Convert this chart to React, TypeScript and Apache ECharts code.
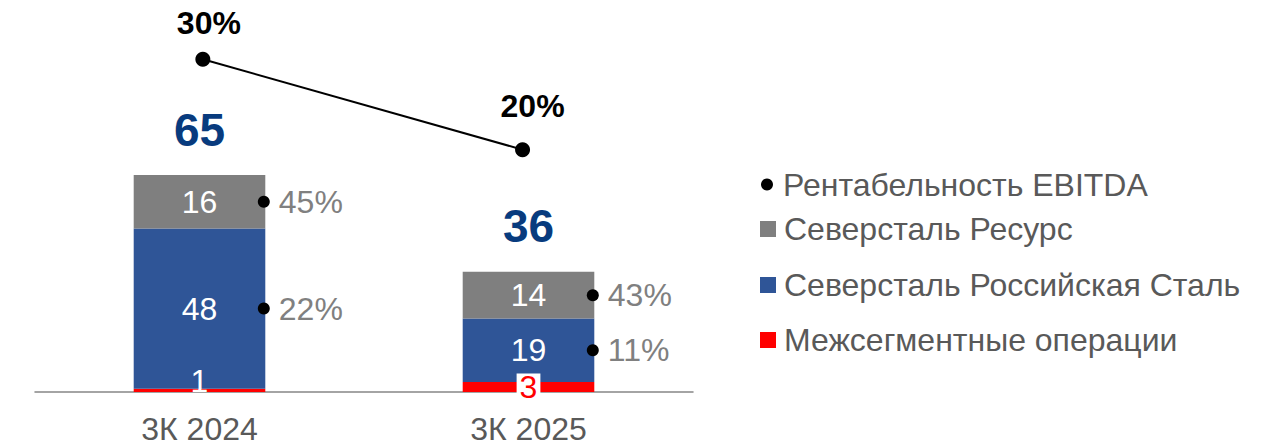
import { useEffect, useRef } from 'react';
import * as echarts from 'echarts';

const categories = ['3К 2024', '3К 2025'];
const intersegment = [1, 3];
const russianSteel = [48, 19];
const resource = [16, 14];
const totals = [65, 36];
const ebitdaMargin = [30, 20];
const resourceMargin = [45, 43];
const steelMargin = [22, 11];

const NAME_MARGIN = 'Рентабельность EBITDA';
const NAME_RES = 'Северсталь Ресурс';
const NAME_RS = 'Северсталь Российская Сталь';
const NAME_INTER = 'Межсегментные операции';

const FONT = '"Liberation Sans", Arial, sans-serif';
const FS = 32;

export default function App() {
  const ref = useRef<HTMLDivElement>(null);
  useEffect(() => {
    if (!ref.current) return;
    const chart = echarts.init(ref.current, undefined, { renderer: 'svg' });

    const shareData = [
      ...categories.map((_, i) => [i, intersegment[i] + russianSteel[i] + resource[i] / 2, resourceMargin[i]]),
      ...categories.map((_, i) => [i, intersegment[i] + russianSteel[i] / 2, steelMargin[i]]),
    ];

    const interData = intersegment.map((v, i) =>
      i === 0
        ? { value: v, label: { show: true, position: 'inside', offset: [0, -9], color: '#ffffff' } }
        : {
            value: v,
            label: {
              show: true,
              position: 'inside',
              color: '#ff0000',
              backgroundColor: '#ffffff',
              padding: [0, 3],
              lineHeight: 27,
            },
          }
    );

    const marginData = ebitdaMargin.map((v, i) => ({
      value: v,
      label: i === 0 ? { offset: [6, 0] } : { offset: [10, -7] },
    }));

    const legendBase = (name: string, top: number, left: number, icon: string, size: number, pad: number) => ({
      data: [name],
      orient: 'horizontal',
      left,
      top,
      padding: 0,
      icon,
      itemWidth: size,
      itemHeight: size,
      selectedMode: false,
      textStyle: { color: '#595959', fontSize: FS, fontFamily: FONT, padding: [0, 0, 0, pad] },
    });

    chart.setOption({
      animation: false,
      textStyle: { fontFamily: FONT },
      legend: [
        legendBase(NAME_MARGIN, 168.5, 761, 'circle', 12, 5),
        legendBase(NAME_RES, 213, 760, 'rect', 16, 3),
        legendBase(NAME_RS, 269, 760, 'rect', 16, 3),
        legendBase(NAME_INTER, 324, 760, 'rect', 16, 3),
      ],
      grid: [
        { left: 35, width: 658, top: 58.2, height: 333.8 },
        { left: 43, width: 639.4, top: 59.3, height: 271.2 },
      ],
      xAxis: [
        {
          type: 'category',
          gridIndex: 0,
          data: categories,
          axisLine: { lineStyle: { color: '#868686', width: 1.5 } },
          axisTick: { show: false },
          axisLabel: { color: '#595959', fontSize: FS, lineHeight: 28, margin: 23, fontFamily: FONT },
        },
        { type: 'category', gridIndex: 1, data: categories, show: false },
      ],
      yAxis: [
        { type: 'value', gridIndex: 0, min: 0, max: 100, show: false, splitLine: { show: false } },
        { type: 'value', gridIndex: 1, min: 0, max: 30, show: false, splitLine: { show: false } },
      ],
      series: [
        {
          name: NAME_INTER,
          type: 'bar',
          stack: 'total',
          barWidth: '40%',
          itemStyle: { color: '#ff0000' },
          label: { fontSize: FS, fontFamily: FONT },
          data: interData,
        },
        {
          name: NAME_RS,
          type: 'bar',
          stack: 'total',
          barWidth: '40%',
          itemStyle: { color: '#2f5597' },
          label: { show: true, position: 'inside', color: '#ffffff', fontSize: FS, fontFamily: FONT },
          data: russianSteel,
        },
        {
          name: NAME_RES,
          type: 'bar',
          stack: 'total',
          barWidth: '40%',
          itemStyle: { color: '#7f7f7f' },
          label: { show: true, position: 'inside', color: '#ffffff', fontSize: FS, fontFamily: FONT },
          data: resource,
        },
        {
          name: 'Итого',
          type: 'scatter',
          xAxisIndex: 0,
          yAxisIndex: 0,
          symbolSize: 1,
          itemStyle: { color: 'rgba(0,0,0,0)', opacity: 1 },
          label: {
            show: true,
            position: 'top',
            distance: 22,
            color: '#083b7e',
            opacity: 1,
            fontSize: 46,
            fontWeight: 'bold',
            fontFamily: FONT,
          },
          data: totals,
        },
        {
          name: 'Доли',
          type: 'custom',
          xAxisIndex: 0,
          yAxisIndex: 0,
          z: 10,
          renderItem: (params: any, api: any) => {
            const p = api.coord([api.value(0), api.value(1)]);
            const band = api.size([1, 0])[0];
            const cx = p[0] + band * 0.2 - 1.5;
            return {
              type: 'group',
              children: [
                { type: 'circle', z2: 10, shape: { cx, cy: p[1], r: 6 }, style: { fill: '#000000' } },
                {
                  type: 'text',
                  x: cx + 15,
                  y: p[1],
                  style: {
                    text: api.value(2) + '%',
                    fill: '#808080',
                    fontSize: FS,
                    fontFamily: FONT,
                    align: 'left',
                    verticalAlign: 'middle',
                  },
                },
              ],
            };
          },
          data: shareData,
        },
        {
          name: NAME_MARGIN,
          type: 'line',
          xAxisIndex: 1,
          yAxisIndex: 1,
          symbol: 'circle',
          symbolSize: 15,
          itemStyle: { color: '#000000' },
          lineStyle: { color: '#000000', width: 2 },
          label: {
            show: true,
            position: 'top',
            distance: 13,
            color: '#000000',
            fontSize: FS,
            fontWeight: 'bold',
            fontFamily: FONT,
            formatter: '{c}%',
          },
          data: marginData,
        },
      ],
    });
    return () => chart.dispose();
  }, []);
  return <div ref={ref} style={{ position: 'absolute', left: 0, top: 0, width: 1268, height: 448 }} />;
}
